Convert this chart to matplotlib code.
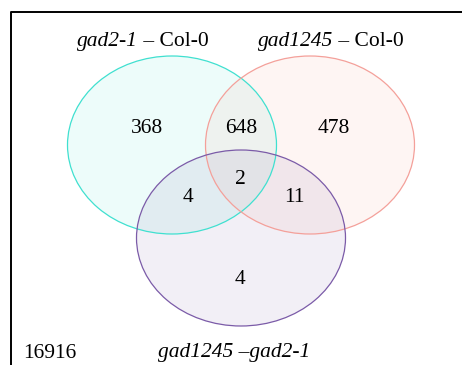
import matplotlib
matplotlib.use("Agg")
import matplotlib.pyplot as plt
from matplotlib.patches import Ellipse

# set names and region counts
sets = ["gad2-1", "gad1245", "gad1245 \u2013gad2-1"]
only_a, only_b, only_c = 368, 478, 4
ab, ac, bc, abc = 648, 4, 11, 2
outside = 16916

plt.rcParams["font.family"] = ["Liberation Serif", "DejaVu Serif"]

fig = plt.figure(figsize=(4.62, 3.65), dpi=100)
ax = fig.add_axes([0, 0, 1, 1])
ax.set_xlim(0, 462)
ax.set_ylim(365, 0)
ax.axis("off")

# circles: (center, width, height, face, edge)
circles = [
    ((172, 145), 209, 178, "#40E0D0", "#40E0D0"),
    ((310, 145), 209, 178, "#FA8072", "#F4A09A"),
    ((241, 238), 209, 176, "#7050A0", "#7B5BA8"),
]
alphas = [0.09, 0.08, 0.09]
for (c, w, h, fc, ec), a in zip(circles, alphas):
    ax.add_patch(Ellipse(c, w, h, facecolor=fc, alpha=a, edgecolor="none"))
for c, w, h, fc, ec in circles:
    ax.add_patch(Ellipse(c, w, h, facecolor="none", edgecolor=ec, lw=0.9))

# frame
ax.plot([11, 11, 462], [365, 12, 12], color="black", lw=1.4, solid_capstyle="butt")

fs = 15.5
dy = 1.5
counts = [
    (147, 127, only_a), (241, 127, ab), (334, 127, only_b),
    (188, 196, ac), (240, 178, abc), (294, 196, bc), (240, 278, only_c),
]
for x, y, v in counts:
    ax.text(x, y + dy, str(v), ha="center", va="center", fontsize=fs)

# set labels: italic genotype + upright control
ax.text(138, 40 + dy, sets[0], style="italic", ha="right", va="center", fontsize=fs)
ax.text(138, 40 + dy, " \u2013 Col-0", ha="left", va="center", fontsize=fs)
ax.text(333, 40 + dy, sets[1], style="italic", ha="right", va="center", fontsize=fs)
ax.text(333, 40 + dy, " \u2013 Col-0", ha="left", va="center", fontsize=fs)
ax.text(234, 351 + dy, sets[2], style="italic", ha="center", va="center", fontsize=fs)

ax.text(23, 352 + dy, str(outside), ha="left", va="center", fontsize=fs)

fig.savefig("out.png", dpi=100)
